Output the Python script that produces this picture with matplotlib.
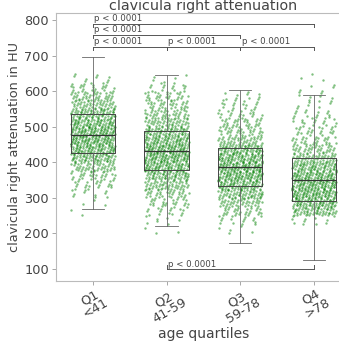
import numpy as np
import matplotlib
matplotlib.use("Agg")
import matplotlib.pyplot as plt

# groups and labels
groups = ["Q1\n<41", "Q2\n41-59", "Q3\n59-78", "Q4\n>78"]

# box statistics (HU)
whislo = [268, 221, 173, 126]
q1 = [427, 379, 332, 290]
med = [477, 433, 386, 351]
q3 = [536, 488, 441, 411]
whishi = [697, 646, 603, 588]

# point counts per 25 HU bin, bins start at 200, 225, ... 625
bin_starts = list(range(200, 650, 25))
counts_q1 = [0, 0, 2, 3, 10, 20, 30, 45, 65, 80, 85, 85, 75, 65, 50, 40, 25, 8]
counts_q2 = [3, 7, 15, 25, 35, 50, 65, 80, 85, 85, 75, 65, 50, 40, 32, 28, 15, 5]
counts_q3 = [5, 15, 30, 45, 60, 75, 85, 85, 80, 70, 45, 35, 28, 22, 15, 10, 0, 0]
counts_q4 = [0, 10, 60, 75, 85, 85, 80, 70, 50, 40, 28, 22, 17, 13, 8, 7, 5, 3]
bin_counts = [counts_q1, counts_q2, counts_q3, counts_q4]

# significance brackets: (left group, right group, y level)
brackets = [(0, 3, 789), (0, 2, 758), (0, 1, 725), (1, 2, 725), (2, 3, 725)]
bottom_bracket = (1, 3, 100)
p_text = "p < 0.0001"

text_col = "#444444"

fig = plt.figure(figsize=(3.39, 3.61), dpi=100)
ax = fig.add_axes([0.165, 0.2216, 0.87, 0.7424])

# jittered points, spread evenly inside each bin
a1, a2 = 0.7548776662466927, 0.5698402909980532
for g, counts in enumerate(bin_counts):
    xs, ys = [], []
    k = 0
    for start, n in zip(bin_starts, counts):
        for i in range(n):
            k += 1
            u = (0.5 + a1 * k) % 1
            v = (0.5 + a2 * k) % 1
            xs.append(g + (u - 0.5) * 0.6)
            ys.append(start + v * 25)
    ax.scatter(xs, ys, s=3, color="green", alpha=0.5, linewidths=0, zorder=2)

stats = []
for i in range(len(groups)):
    stats.append(dict(whislo=whislo[i], q1=q1[i], med=med[i], q3=q3[i],
                      whishi=whishi[i], fliers=[]))
ax.bxp(stats, positions=range(len(groups)), widths=0.6, showfliers=False,
       boxprops=dict(color="#444444", linewidth=0.7),
       whiskerprops=dict(color="#666666", linewidth=0.6),
       capprops=dict(color="#666666", linewidth=0.6),
       medianprops=dict(color="#333333", linewidth=0.9), zorder=3)

# brackets
for a, b, y in brackets:
    ax.plot([a, b], [y, y], color="#555555", lw=0.7, zorder=4)
    for xx in (a, b):
        ax.plot([xx, xx], [y, y - 8], color="#555555", lw=0.7, zorder=4)
    ax.text(a + 0.02, y + 3, p_text, fontsize=6.2, color="#444444",
            ha="left", va="bottom")
a, b, y = bottom_bracket
ax.plot([a, b], [y, y], color="#555555", lw=0.7, zorder=4)
for xx in (a, b):
    ax.plot([xx, xx], [y, y + 10], color="#555555", lw=0.7, zorder=4)
ax.text(a + 0.02, y + 1, p_text, fontsize=6.2, color="#444444",
        ha="left", va="bottom")

ax.set_xlim(-0.5, 3.5)
ax.set_ylim(66, 820)
ax.set_xticks(range(len(groups)))
ax.set_xticklabels(groups, rotation=30, ha="center", fontsize=9.3,
                   color=text_col, linespacing=0.95)
ax.set_yticks([100, 200, 300, 400, 500, 600, 700, 800])
ax.tick_params(axis="y", labelsize=9.3, labelcolor=text_col, color="#999999",
               length=3, width=0.6, pad=2)
ax.tick_params(axis="x", color="#999999", length=3, width=0.6, pad=0)
for s in ax.spines.values():
    s.set_color("#bbbbbb")
    s.set_linewidth(0.8)
ax.spines["right"].set_visible(False)

ax.set_xlabel("age quartiles", fontsize=10, color=text_col, labelpad=1)
ax.set_ylabel("clavicula right attenuation in HU", fontsize=9.3, color=text_col,
              labelpad=2)
ax.set_title("clavicula right attenuation", fontsize=10.3, color=text_col, pad=0)

fig.savefig("out.png", dpi=100)
